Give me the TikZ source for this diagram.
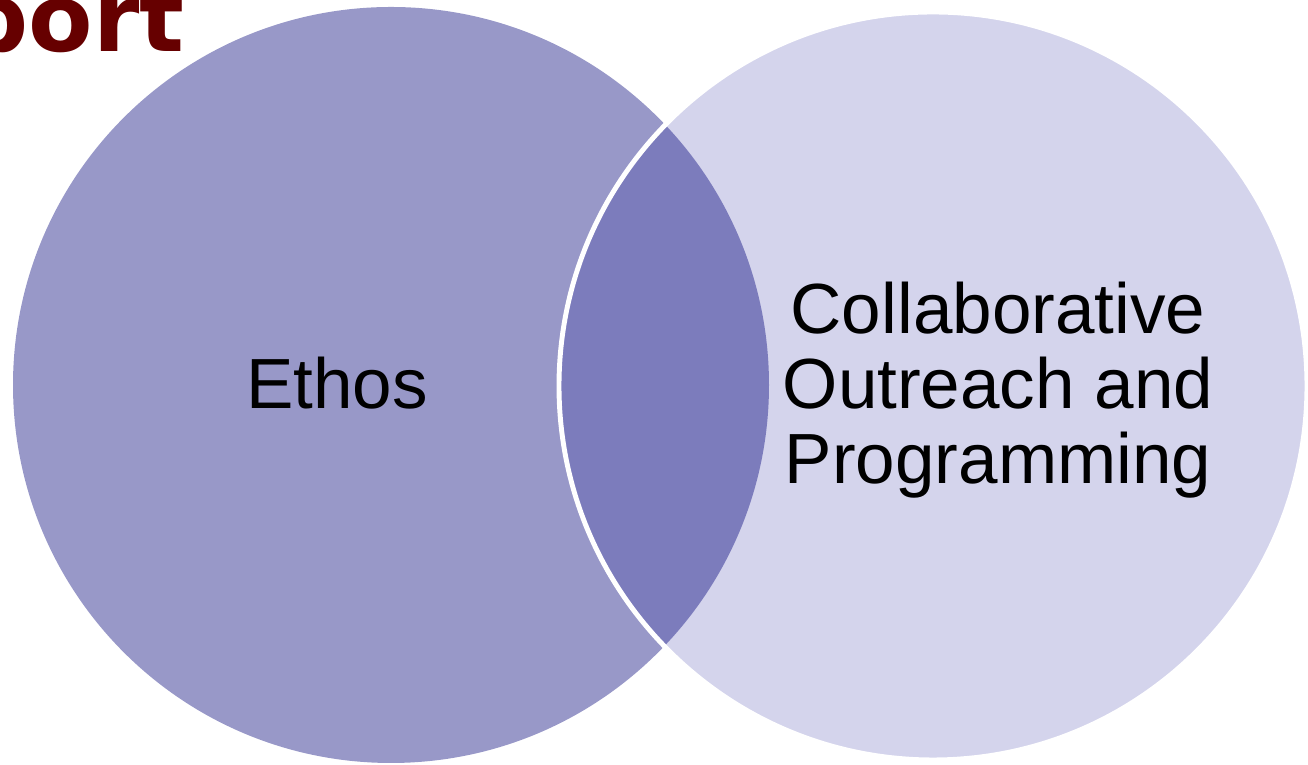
\documentclass[tikz,border=0pt]{standalone}
\usepackage{fontspec}
\setmainfont{Liberation Sans}
\newfontfamily\headfont{DejaVu Sans}
\definecolor{ethosfill}{RGB}{152,152,200}
\definecolor{outfill}{RGB}{212,212,236}
\definecolor{lensfill}{RGB}{124,124,188}
\definecolor{headred}{RGB}{102,0,0}
\begin{document}
\begin{tikzpicture}[x=0.01cm,y=-0.01cm,
    venntext/.style={font=\fontsize{20.2}{21.3}\selectfont,align=center,inner sep=0pt},
    headtext/.style={font=\headfont\bfseries\fontsize{26.7}{30}\selectfont,text=headred,inner sep=0pt}]
  \useasboundingbox (0,0) rectangle (1308,765);
  % circles
  \coordinate (ethos) at (391,385);
  \coordinate (outreach) at (933,386);
  \fill[ethosfill] (ethos) circle [radius=378];
  \fill[outfill] (outreach) circle [radius=374];
  \begin{scope}
    \clip (ethos) circle [radius=378];
    \fill[lensfill] (outreach) circle [radius=374];
  \end{scope}
  \draw[white,line width=1.4pt] (outreach) circle [radius=374];
  % labels
  \node[venntext] (ethoslabel) at (337,383) {Ethos};
  \node[venntext] (outreachlabel) at (998,390) {Collaborative\\Outreach and\\Programming};
  % title
  \node[headtext,anchor=base east] (head) at (185,52) {Support};
\end{tikzpicture}
\end{document}
